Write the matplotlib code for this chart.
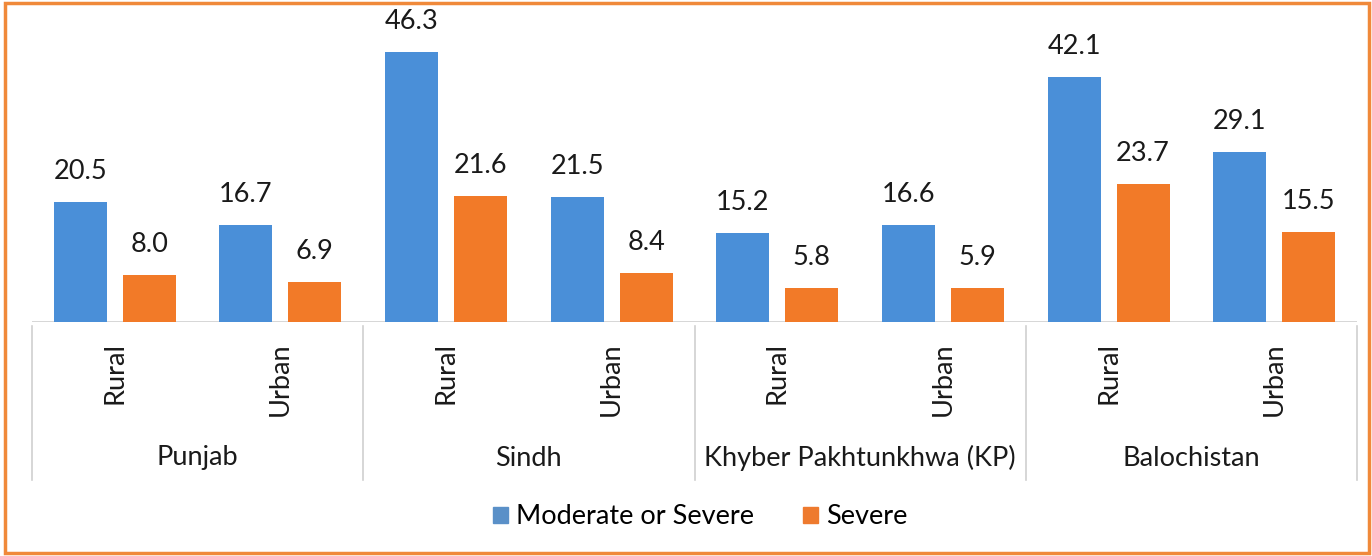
import matplotlib
matplotlib.use("Agg")
import matplotlib.pyplot as plt
import matplotlib.transforms as mtransforms
from matplotlib.patches import Rectangle, Patch
import numpy as np

provinces = ["Punjab", "Sindh", "Khyber Pakhtunkhwa (KP)", "Balochistan"]
areas = ["Rural", "Urban"]
moderate_or_severe = [20.5, 16.7, 46.3, 21.5, 15.2, 16.6, 42.1, 29.1]
severe = [8.0, 6.9, 21.6, 8.4, 5.8, 5.9, 23.7, 15.5]
series_names = ["Moderate or Severe", "Severe"]

blue = "#4A8FD8"
orange = "#F27A28"
font = ["Lato", "DejaVu Sans"]
plt.rcParams['font.family'] = font
FS = 19.5

W, H = 1372, 556
fig = plt.figure(figsize=(W / 100, H / 100), dpi=100)
ax = fig.add_axes([32 / W, 1 - 322 / H, (1357 - 32) / W, (322 - 30.5) / H])

n = len(moderate_or_severe)
x = np.arange(n)
off = 0.208
bw = 0.32
b1 = ax.bar(x - off, moderate_or_severe, bw, color=blue, zorder=3)
b2 = ax.bar(x + off, severe, bw, color=orange, zorder=3)
for bars, vals in ((b1, moderate_or_severe), (b2, severe)):
    for rect, v in zip(bars, vals):
        ax.annotate(f"{v:.1f}", (rect.get_x() + rect.get_width() / 2, v),
                    xytext=(0, 13), textcoords="offset points",
                    ha="center", va="bottom", fontsize=FS, color="#1a1a1a")

ax.set_xlim(-0.5, n - 0.5)
ax.set_ylim(0, 50)
for s in ax.spines.values():
    s.set_visible(False)
ax.set_xticks([])
ax.set_yticks([])
ax.axhline(0, color="#D0D0D0", lw=1.2, zorder=2)

trans = mtransforms.blended_transform_factory(ax.transData, fig.transFigure)
# subcategory labels
for i in range(n):
    ax.text(i, 1 - 342 / H, areas[i % 2], transform=trans, rotation=90,
            ha="center", va="top", fontsize=FS, color="#1a1a1a")
# group labels
for g, name in enumerate(provinces):
    ax.text(2 * g + 0.5, 1 - 458 / H, name, transform=trans,
            ha="center", va="center", fontsize=FS, color="#1a1a1a")
# separators
for b in np.arange(-0.5, n, 2):
    ax.plot([b, b], [1 - 326 / H, 1 - 480 / H], transform=trans,
            color="#D0D0D0", lw=1.2, clip_on=False)

handles = [Patch(color="#5A90C8", label=series_names[0]),
           Patch(color="#EE7A2E", label=series_names[1])]
fig.legend(handles=handles, loc="center", bbox_to_anchor=(700 / W, 1 - 517 / H),
           ncol=2, frameon=False, fontsize=FS, handlelength=0.55, handleheight=0.55,
           handletextpad=0.3, columnspacing=1.8)

fig.patches.append(Rectangle((5 / W, 3 / H), (1369 - 5) / W, (556 - 3 - 3) / H,
                             transform=fig.transFigure, fill=False,
                             edgecolor="#F0893A", lw=2.5))

fig.savefig("out.png", dpi=100, facecolor="white")
